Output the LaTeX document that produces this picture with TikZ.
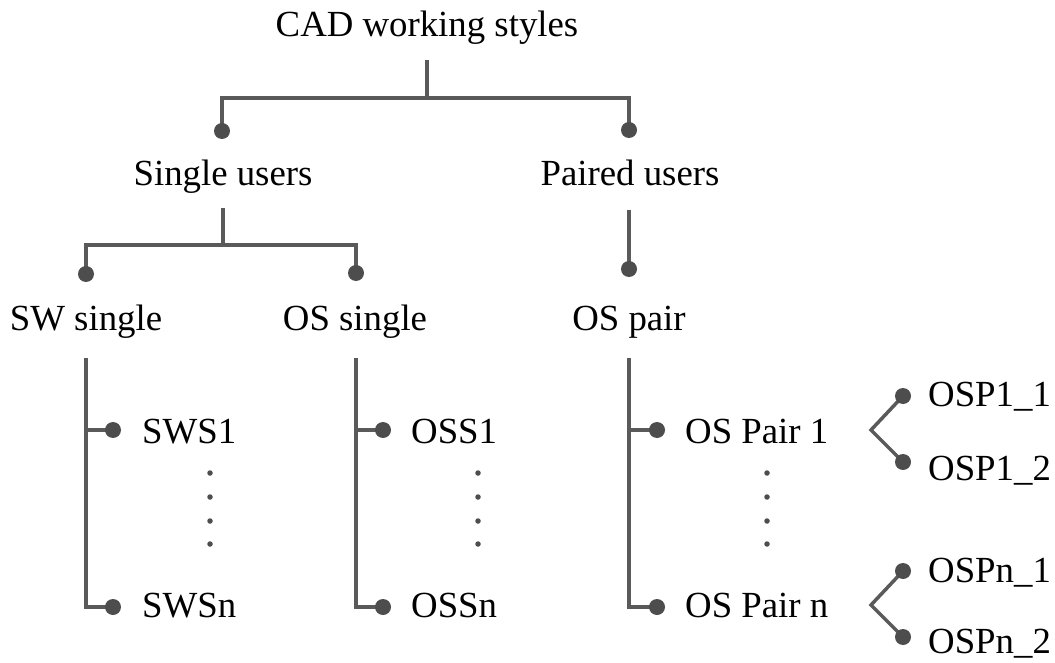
\documentclass[tikz,border=0pt]{standalone}
\usepackage{fontspec}
\setmainfont{Liberation Serif}
\definecolor{linegray}{HTML}{5A5A5A}
\definecolor{dotgray}{HTML}{4D4D4D}
\begin{document}
\begin{tikzpicture}[x=1pt,y=-1pt,
  lbl/.style={font=\fontsize{36.8}{40}\selectfont, text=black, inner sep=0pt},
  wire/.style={draw=linegray, line width=3.5pt},
  pin/.style={fill=dotgray, circle, inner sep=0pt, minimum size=16pt},
  ell/.style={fill=dotgray, circle, inner sep=0pt, minimum size=5.5pt}]
\useasboundingbox[fill=white] (0,0) rectangle (1055,663);

% labels
\node[lbl, anchor=base] (root)   at (427,37)  {CAD working styles};
\node[lbl, anchor=base] (single) at (223,186) {Single users};
\node[lbl, anchor=base] (paired) at (630,186) {Paired users};
\node[lbl, anchor=base] (sw)     at (86,330)  {SW single};
\node[lbl, anchor=base] (oss)    at (355,330) {OS single};
\node[lbl, anchor=base] (osp)    at (629,330) {OS pair};
\node[lbl, anchor=base west] (sws1) at (142,443) {SWS1};
\node[lbl, anchor=base west] (swsn) at (142,617) {SWSn};
\node[lbl, anchor=base west] (oss1) at (411,443) {OSS1};
\node[lbl, anchor=base west] (ossn) at (411,617) {OSSn};
\node[lbl, anchor=base west] (op1)  at (685,443) {OS Pair 1};
\node[lbl, anchor=base west] (opn)  at (685,617) {OS Pair n};
\node[lbl, anchor=base west] (p11)  at (928,406) {OSP1\_1};
\node[lbl, anchor=base west] (p12)  at (928,480) {OSP1\_2};
\node[lbl, anchor=base west] (pn1)  at (928,582) {OSPn\_1};
\node[lbl, anchor=base west] (pn2)  at (928,653) {OSPn\_2};

% junction and pin coordinates
\coordinate (r0) at (427,60);   \coordinate (r1) at (427,98);
\coordinate (rl) at (222,98);   \coordinate (rr) at (629,98);
\coordinate (dsingle) at (222,131); \coordinate (dpaired) at (629,130);
\coordinate (s0) at (223,208);  \coordinate (s1) at (223,245);
\coordinate (sl) at (86,245);   \coordinate (sr) at (356,245);
\coordinate (dsw) at (86,274);  \coordinate (doss) at (356,273);
\coordinate (p0) at (629,210);  \coordinate (dosp) at (629,269);

% level 1 and 2 brackets
\draw[wire] (r0) -- (r1);
\draw[wire] (dsingle) -- (rl) -- (rr) -- (dpaired);
\draw[wire] (s0) -- (s1);
\draw[wire] (dsw) -- (sl) -- (sr) -- (doss);
\draw[wire] (p0) -- (dosp);
\foreach \d in {dsingle,dpaired,dsw,doss,dosp} \node[pin] at (\d) {};

% leaf lists: spine x, pin x, ellipsis x
\foreach \n/\sx/\px/\ex in {a/86/113/210, b/356/383/478, c/629/657/767}{
  \coordinate (\n top) at (\sx,358);
  \coordinate (\n mid) at (\sx,430);
  \coordinate (\n bot) at (\sx,607);
  \coordinate (\n p1) at (\px,430);
  \coordinate (\n pn) at (\px,607);
  \draw[wire] (\n top) -- (\n bot) -- (\n pn);
  \draw[wire] (\n mid) -- (\n p1);
  \node[pin] at (\n p1) {};
  \node[pin] at (\n pn) {};
  \foreach \y in {473,497,521,544} \node[ell] at (\ex,\y) {};
}

% pair forks
\coordinate (f1) at (871,430); \coordinate (f1a) at (903,396); \coordinate (f1b) at (903,462);
\coordinate (fn) at (871,605); \coordinate (fna) at (903,571); \coordinate (fnb) at (903,637);
\draw[wire] (f1a) -- (f1) -- (f1b);
\draw[wire] (fna) -- (fn) -- (fnb);
\foreach \d in {f1a,f1b,fna,fnb} \node[pin] at (\d) {};
\end{tikzpicture}
\end{document}
